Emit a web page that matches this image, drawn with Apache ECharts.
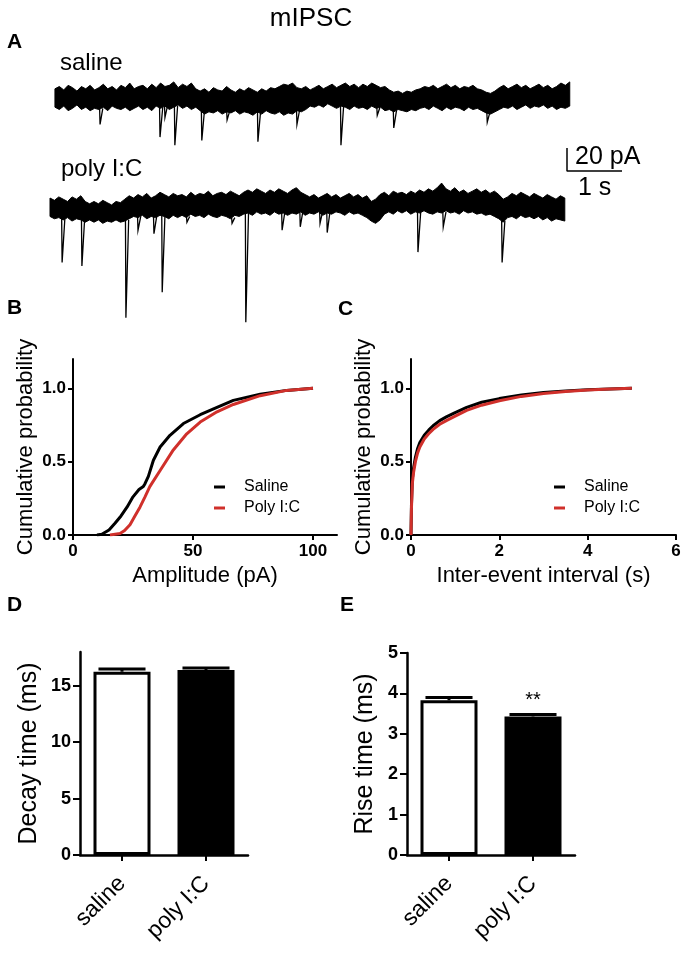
<!DOCTYPE html>
<html><head><meta charset="utf-8">
<script src="https://cdn.jsdelivr.net/npm/echarts@6/dist/echarts.min.js"></script>
<style>html,body{margin:0;padding:0;background:#fff}#main{width:685px;height:955px}</style>
</head><body><div id="main"></div>
<script>
// ================= DATA =================
// Panel A: traces (time in s, current in pA relative to an arbitrary offset)
const traceStep = 0.08;
const salineStart = 0.09;
const salineTop = [208,210,207,211,209,206,210,208,211,207,
  209,212,208,210,207,211,209,213,208,210,
  211,208,212,209,213,210,211,214,209,212,
  210,213,208,206,208,205,209,207,206,210,
  207,205,208,206,209,207,205,208,206,209,
  208,210,212,211,213,209,208,210,207,209,
  211,208,210,212,209,211,213,210,212,209,
  212,210,213,211,209,210,207,205,206,204,
  206,205,207,208,210,209,211,208,210,212,
  209,211,208,210,209,211,208,207,205,204,
  206,209,211,208,210,212,209,211,208,210,
  212,209,211,208,210,213,211,214];
const salineBottom = [192,190,193,189,191,194,190,192,189,191,
  190,192,189,193,191,190,192,189,191,193,
  190,192,189,193,191,193,190,192,194,191,
  193,190,192,189,186,188,187,189,186,188,
  187,189,186,188,187,185,188,186,189,187,
  186,188,185,187,186,189,188,190,193,192,
  194,192,195,193,191,193,192,190,193,191,
  192,190,193,191,192,189,190,188,190,189,
  188,190,189,191,192,190,193,191,189,192,
  190,192,191,189,192,190,191,189,187,186,
  188,190,192,191,193,190,192,194,191,193,
  192,194,191,193,190,192,191,193];
const salineEvents = [[0.91,177],[2.0,166],[2.09,183],[2.27,159],[2.76,163],[3.22,181],
  [3.78,162],[4.49,177],[5.29,159],[5.95,185],[6.25,174],[7.95,179]];

const polyStart = 0.0;
const polyTop = [113,111,114,112,110,114,112,115,110,108,
  110,108,111,109,107,110,109,112,115,113,
  116,114,117,113,115,118,116,114,117,115,
  116,114,118,115,117,116,119,115,117,118,
  116,119,117,115,118,120,118,121,119,117,
  120,118,121,119,117,120,122,118,116,114,
  116,113,115,117,114,116,113,115,117,114,
  116,113,115,110,112,116,118,115,119,117,
  118,116,119,117,120,118,121,119,122,126,
  121,119,122,118,120,117,119,121,118,120,
  117,119,116,112,114,117,115,118,116,114,
  117,115,113,116,114,112,115,113];
const polyBottom = [97,95,96,94,96,93,95,94,92,94,
  92,94,91,93,92,94,92,93,95,97,
  96,98,95,97,96,98,97,95,98,96,
  98,96,99,97,98,96,99,97,96,98,
  97,95,98,97,99,100,98,101,99,100,
  98,101,99,100,98,100,99,101,98,100,
  99,101,98,100,99,101,100,98,101,99,
  100,98,96,93,91,94,99,101,99,102,
  100,102,99,101,100,102,100,99,101,100,
  102,100,101,99,102,100,101,99,100,98,
  99,97,95,92,96,97,95,98,96,97,
  95,97,94,96,93,95,94,93];
const polyEvents = [[0.22,57],[0.58,54],[1.38,9],[1.6,85],[1.89,82],[2.04,31],[2.49,92],
  [3.31,91],[3.56,5],[4.22,85],[4.55,88],[4.91,91],[5.04,83],[6.69,66],[7.15,88],[8.22,57]];

const scaleBar = [[9.4,156.5],[9.4,136.5],[10.4,136.5]];

// Panel B: cumulative amplitude distribution
const ampSaline = [[10,0],[12,0.005],[15,0.034],[17.5,0.08],[20,0.13],[22.5,0.19],[25,0.26],
  [27.5,0.31],[29.3,0.33],[30,0.35],[31.4,0.40],[33.5,0.51],[36.3,0.60],[40.4,0.68],[46,0.76],
  [53,0.82],[60,0.87],[66.8,0.918],[78,0.96],[89,0.986],[100,1.0]];
const ampPoly = [[15.4,0],[19.6,0.01],[21.5,0.03],[23.75,0.07],[25.8,0.13],[27.9,0.19],[30,0.26],
  [32,0.33],[36.3,0.44],[41.8,0.58],[47.4,0.69],[53,0.77],[60,0.84],[66.8,0.89],[78,0.95],
  [89,0.986],[100,1.0]];

// Panel C: cumulative inter-event interval distribution
const iviSaline = [[0,0],[0.01,0.2],[0.03,0.38],[0.06,0.46],[0.1,0.53],[0.15,0.59],[0.2,0.63],
  [0.3,0.68],[0.4,0.715],[0.5,0.745],[0.65,0.78],[0.8,0.805],[1.0,0.835],[1.26,0.87],[1.6,0.905],
  [2.0,0.93],[2.5,0.955],[3.0,0.972],[3.5,0.982],[4.0,0.99],[4.5,0.996],[5.0,1.0]];
const iviPoly = [[0,0],[0.01,0.18],[0.03,0.35],[0.06,0.43],[0.1,0.5],[0.15,0.56],[0.2,0.6],
  [0.3,0.655],[0.4,0.69],[0.5,0.72],[0.65,0.755],[0.8,0.78],[1.0,0.81],[1.26,0.85],[1.6,0.885],
  [2.0,0.915],[2.5,0.945],[3.0,0.965],[3.5,0.978],[4.0,0.988],[4.5,0.995],[5.0,1.0]];

// Panels D, E: bar charts
const groups = ['saline', 'poly I:C'];
const decayMean = [16.25, 16.4];
const decaySem = [0.25, 0.18];
const riseMean = [3.83, 3.43];
const riseSem = [0.07, 0.05];
const riseSig = ['', '**'];

const probTicks = [0, 0.5, 1];
const ampTicks = [0, 50, 100];
const iviTicks = [0, 2, 4, 6];
const decayTicks = [0, 5, 10, 15];

// ================= CHART =================
const FONT = '"Liberation Sans", Arial, Helvetica, sans-serif';
const RED = '#d0302b';

function bandData(start, top, bottom) {
  return top.map((v, i) => [start + i * traceStep, bottom[i], v]);
}
function bandSeries(data) {
  return {
    type: 'custom', xAxisIndex: 0, yAxisIndex: 0, data: data, silent: true,
    encode: { x: 0, y: [1, 2] },
    renderItem: function (params, api) {
      if (params.dataIndexInside !== 0) return null;
      const n = params.dataInsideLength;
      const upper = [], lower = [];
      for (let j = 0; j < n; j++) {
        upper.push(api.coord([api.value(0, j), api.value(2, j)]));
        lower.push(api.coord([api.value(0, j), api.value(1, j)]));
      }
      const poly = upper.concat(lower.slice().reverse());
      return { type: 'group', children: [
        { type: 'polygon', shape: { points: poly }, style: { fill: '#000', stroke: '#000', lineWidth: 1 } }
      ] };
    }
  };
}
function spikeSeries(events, start, bottom) {
  return {
    type: 'custom', xAxisIndex: 0, yAxisIndex: 0, silent: true, z: 3,
    data: events.map(e => {
      const idx = Math.max(0, Math.min(bottom.length - 1, Math.round((e[0] - start) / traceStep)));
      return [e[0], e[1], bottom[idx]];
    }),
    encode: { x: 0, y: [1, 2] },
    renderItem: function (params, api) {
      const t = api.value(0), pk = api.value(1), base = api.value(2);
      const p0 = api.coord([t - 0.008, base + 1]);
      const p1 = api.coord([t, pk]);
      const p2 = api.coord([t + 0.05, base + 1]);
      return { type: 'polyline', shape: { points: [p0, p1, p2] },
        style: { stroke: '#000', lineWidth: 1.3, fill: null } };
    }
  };
}
function errSeries(xi, yi, mean, sem, sig) {
  return {
    type: 'custom', xAxisIndex: xi, yAxisIndex: yi, z: 5, silent: true,
    data: mean.map((m, i) => [i, m, sem[i]]),
    encode: { x: 0, y: 1 },
    renderItem: function (params, api) {
      const i = api.value(0), m = api.value(1), s = api.value(2);
      const base = api.coord([i, m]);
      const top = api.coord([i, m + s]);
      const w = api.size([1, 0])[0] * 0.28;
      const children = [
        { type: 'line', shape: { x1: base[0], y1: base[1], x2: top[0], y2: top[1] }, style: { stroke: '#000', lineWidth: 3 } },
        { type: 'line', shape: { x1: top[0] - w, y1: top[1], x2: top[0] + w, y2: top[1] }, style: { stroke: '#000', lineWidth: 3 } }
      ];
      if (sig && sig[params.dataIndex]) {
        children.push({ type: 'text', x: top[0], y: top[1] - 14,
          style: { text: sig[params.dataIndex], font: '20px ' + FONT, fill: '#000', align: 'center', verticalAlign: 'middle' } });
      }
      return { type: 'group', children: children };
    }
  };
}
function valAxis(gi, o) {
  return Object.assign({
    type: 'value', gridIndex: gi, splitLine: { show: false },
    axisLine: { show: true, onZero: false, lineStyle: { color: '#000', width: 2 } },
    axisTick: { show: true, length: 5, lineStyle: { color: '#000', width: 2 } },
    axisLabel: { color: '#000', fontWeight: 'bold', fontSize: 17, fontFamily: FONT, margin: 7 },
    nameLocation: 'middle',
    nameTextStyle: { color: '#000', fontSize: 22, fontFamily: FONT }
  }, o);
}
function lineS(name, xi, yi, data, color) {
  return { name: name, type: 'line', xAxisIndex: xi, yAxisIndex: yi, data: data,
    showSymbol: false, symbol: 'none', lineStyle: { color: color, width: 3 }, itemStyle: { color: color } };
}
function barS(xi, yi, mean) {
  return { type: 'bar', xAxisIndex: xi, yAxisIndex: yi, barWidth: 57, silent: true,
    data: mean.map((v, i) => ({ value: v, itemStyle: i === 0
      ? { color: '#fff', borderColor: '#000', borderWidth: 3 }
      : { color: '#000', borderColor: '#000', borderWidth: 3 } })) };
}
function catAxis(gi) {
  return { type: 'category', gridIndex: gi, data: groups,
    axisLine: { show: true, lineStyle: { color: '#000', width: 2.5 } },
    axisTick: { show: true, alignWithLabel: true, length: 6, lineStyle: { color: '#000', width: 2 } },
    axisLabel: { rotate: 45, color: '#000', fontSize: 23, fontFamily: FONT, margin: 25 } };
}
function txt(x, y, s, font, align) {
  return { type: 'text', x: x, y: y, silent: true,
    style: { text: s, font: font + ' ' + FONT, fill: '#000', align: align || 'left', verticalAlign: 'middle' } };
}
const legendBase = { orient: 'vertical', icon: 'rect', itemWidth: 11, itemHeight: 3, itemGap: 5,
  selectedMode: false, data: ['Saline', 'Poly I:C'],
  textStyle: { fontSize: 16, fontFamily: FONT, color: '#000', padding: [0, 0, 0, 14] } };

const chart = echarts.init(document.getElementById('main'), null, { renderer: 'canvas' });
chart.setOption({
  animation: false,
  backgroundColor: '#fff',
  grid: [
    { left: 50, top: 75, width: 605, height: 253 },
    { left: 73, top: 359, width: 264, height: 176 },
    { left: 411, top: 359, width: 265, height: 176 },
    { left: 80, top: 652, width: 168, height: 203 },
    { left: 407, top: 653, width: 168, height: 202 }
  ],
  legend: [
    Object.assign({}, legendBase, { left: 209, top: 474 }),
    Object.assign({}, legendBase, { left: 549, top: 474 })
  ],
  xAxis: [
    { type: 'value', gridIndex: 0, min: 0, max: 11, show: false },
    valAxis(1, { min: 0, max: 110, name: 'Amplitude (pA)', nameGap: 30,
      axisTick: { show: true, length: 5, customValues: ampTicks, lineStyle: { color: '#000', width: 2 } },
      axisLabel: { color: '#000', fontWeight: 'bold', fontSize: 17, fontFamily: FONT, margin: 8, customValues: ampTicks } }),
    valAxis(2, { min: 0, max: 6, interval: 2, name: 'Inter-event interval (s)', nameGap: 30,
      axisLabel: { color: '#000', fontWeight: 'bold', fontSize: 17, fontFamily: FONT, margin: 8, customValues: iviTicks } }),
    catAxis(3),
    catAxis(4)
  ],
  yAxis: [
    { type: 'value', gridIndex: 0, min: 0, max: 220, show: false },
    valAxis(1, { min: 0, max: 1.2, name: 'Cumulative probability', nameGap: 36,
      axisTick: { show: true, length: 5, customValues: probTicks, lineStyle: { color: '#000', width: 2 } },
      axisLabel: { color: '#000', fontWeight: 'bold', fontSize: 17, fontFamily: FONT, margin: 7, customValues: probTicks, formatter: v => v.toFixed(1) } }),
    valAxis(2, { min: 0, max: 1.2, name: 'Cumulative probability', nameGap: 36,
      axisTick: { show: true, length: 5, customValues: probTicks, lineStyle: { color: '#000', width: 2 } },
      axisLabel: { color: '#000', fontWeight: 'bold', fontSize: 17, fontFamily: FONT, margin: 7, customValues: probTicks, formatter: v => v.toFixed(1) } }),
    valAxis(3, { min: 0, max: 18, name: 'Decay time (ms)', nameGap: 38,
      nameTextStyle: { color: '#000', fontSize: 25, fontFamily: FONT },
      axisLine: { show: true, onZero: false, lineStyle: { color: '#000', width: 2.5 } },
      axisTick: { show: true, length: 7, customValues: decayTicks, lineStyle: { color: '#000', width: 2 } },
      axisLabel: { color: '#000', fontWeight: 'bold', fontSize: 18, fontFamily: FONT, margin: 9, customValues: decayTicks } }),
    valAxis(4, { min: 0, max: 5, interval: 1, name: 'Rise time (ms)', nameGap: 29,
      nameTextStyle: { color: '#000', fontSize: 25, fontFamily: FONT },
      axisLine: { show: true, onZero: false, lineStyle: { color: '#000', width: 2.5 } },
      axisTick: { show: true, length: 7, lineStyle: { color: '#000', width: 2 } },
      axisLabel: { color: '#000', fontWeight: 'bold', fontSize: 18, fontFamily: FONT, margin: 9 } })
  ],
  series: [
    bandSeries(bandData(salineStart, salineTop, salineBottom)),
    spikeSeries(salineEvents, salineStart, salineBottom),
    bandSeries(bandData(polyStart, polyTop, polyBottom)),
    spikeSeries(polyEvents, polyStart, polyBottom),
    { type: 'line', xAxisIndex: 0, yAxisIndex: 0, data: scaleBar, showSymbol: false, symbol: 'none',
      lineStyle: { color: '#000', width: 1.5 }, silent: true },
    lineS('Saline', 1, 1, ampSaline, '#000'),
    lineS('Poly I:C', 1, 1, ampPoly, RED),
    lineS('Saline', 2, 2, iviSaline, '#000'),
    lineS('Poly I:C', 2, 2, iviPoly, RED),
    barS(3, 3, decayMean),
    errSeries(3, 3, decayMean, decaySem, null),
    barS(4, 4, riseMean),
    errSeries(4, 4, riseMean, riseSem, riseSig)
  ],
  graphic: [
    txt(311, 19, 'mIPSC', '26px', 'center'),
    txt(7, 42, 'A', 'bold 21px'),
    txt(60, 63, 'saline', '24px'),
    txt(61, 169, 'poly I:C', '24px'),
    txt(575, 157, '20 pA', '25px'),
    txt(578, 188, '1 s', '25px'),
    txt(7, 308, 'B', 'bold 21px'),
    txt(338, 309, 'C', 'bold 21px'),
    txt(7, 605, 'D', 'bold 21px'),
    txt(340, 605, 'E', 'bold 21px')
  ]
});
</script></body></html>
